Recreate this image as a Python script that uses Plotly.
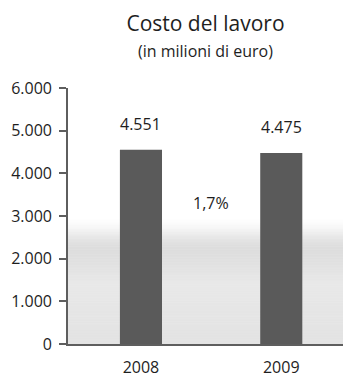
import math
import plotly.graph_objects as go

# Labour cost, millions of euro
years = ["2008", "2009"]
costs = [4551, 4475]
value_labels = ["4.551", "4.475"]
change_label = "1,7%"
y_ticks = [0, 1000, 2000, 3000, 4000, 5000, 6000]
y_tick_labels = ["0", "1.000", "2.000", "3.000", "4.000", "5.000", "6.000"]

FONT = "Open Sans"
TEXT = "#1e1e1e"
BAR = "#5a5a5a"
AXIS = "#5e5e5e"

fig = go.Figure()
fig.add_trace(go.Bar(
    x=[0, 1], y=costs, width=0.3,
    marker=dict(color=BAR, line=dict(width=0)),
    hoverinfo="skip",
))

# value labels above the bars
for i, (v, lab) in enumerate(zip(costs, value_labels)):
    fig.add_annotation(x=i, y=v, text=lab, showarrow=False, yanchor="bottom",
                       yshift=13, font=dict(family=FONT, size=16, color=TEXT))

# year-on-year change between the bars
fig.add_annotation(x=0.5, y=3300, text=change_label, showarrow=False,
                   font=dict(family=FONT, size=16, color=TEXT))


# soft grey haze in the lower part of the plot area
def haze_alpha(v):
    if v > 3000:
        return 0.0
    if v > 2200:
        t = (3000 - v) / 800
        return 0.30 * (0.5 - 0.5 * math.cos(math.pi * t))
    if v > 1400:
        t = (2200 - v) / 800
        return 0.30 - 0.10 * t
    return 0.20 + 0.05 * (1400 - v) / 1400


shapes = []
steps = 80
top = 3000
for k in range(steps):
    y0 = top * k / steps
    y1 = top * (k + 1) / steps
    a = haze_alpha((y0 + y1) / 2)
    shapes.append(dict(type="rect", xref="paper", yref="y", x0=0, x1=1, y0=y0, y1=y1,
                       fillcolor=f"rgba(140,140,140,{a:.3f})", line=dict(width=0),
                       layer="below"))

fig.update_layout(
    width=343, height=378,
    margin=dict(l=68, r=0, t=88, b=28),
    paper_bgcolor="white", plot_bgcolor="white",
    showlegend=False,
    shapes=shapes,
    title=dict(text="Costo del lavoro", x=0.5, xref="paper", y=1 - 24 / 378,
               yref="container", yanchor="middle",
               font=dict(family=FONT, size=21, color=TEXT)),
    annotations=list(fig.layout.annotations) + [dict(
        text="(in milioni di euro)", x=0.5, xref="paper", y=(350 - 50) / 262, yref="paper",
        showarrow=False, yanchor="middle", font=dict(family=FONT, size=16, color=TEXT))],
)

fig.update_xaxes(
    range=[-0.52, 1.44], tickmode="array", tickvals=[0, 1], ticktext=years,
    showline=True, linecolor=AXIS, linewidth=1.6, ticks="", showgrid=False,
    zeroline=False, ticklabelstandoff=8,
    tickfont=dict(family=FONT, size=16, color=TEXT),
)
fig.update_yaxes(
    range=[0, 6000], tickmode="array", tickvals=y_ticks, ticktext=y_tick_labels,
    showline=True, linecolor=AXIS, linewidth=1.6, ticks="outside", ticklen=7,
    tickcolor=AXIS, tickwidth=1.6, showgrid=False, zeroline=False,
    ticklabelstandoff=4,
    tickfont=dict(family=FONT, size=16, color=TEXT),
)

fig.write_html("out.html")
